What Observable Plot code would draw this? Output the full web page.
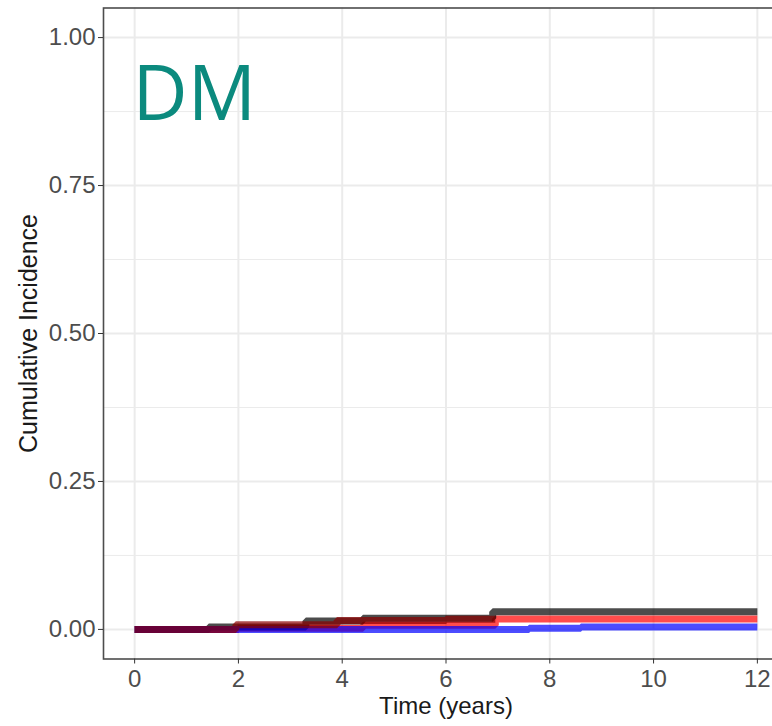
<!DOCTYPE html>
<html>
<head>
<meta charset="utf-8">
<script src="https://cdn.jsdelivr.net/npm/d3@7"></script>
<script src="https://cdn.jsdelivr.net/npm/@observablehq/plot@0.6"></script>
<style>
  html, body { margin: 0; padding: 0; background: #fff; overflow: hidden; }
  #chart svg { max-width: none !important; display: block; }
</style>
</head>
<body>
<div id="chart"></div>
<script>
// Tick values
const xTicks = [0, 2, 4, 6, 8, 10, 12];
const yTicks = [0, 0.25, 0.5, 0.75, 1.0];
const yMinor = [0.125, 0.375, 0.625, 0.875];

// Series (cumulative incidence step functions), listed in drawing order
const groupNames = ["g3", "g1", "g4", "g2"];
const groupColors = ["#ff0000", "#000000", "#0000ff", "#8b0000"];

const timeG1 = [0, 1.43, 3.3, 4.4, 6.9, 12];
const ciG1   = [0, 0.004, 0.014, 0.019, 0.030, 0.030];
const timeG2 = [0, 1.95, 3.9, 6.0, 6.95];
const ciG2   = [0, 0.008, 0.015, 0.017, 0.017];
const timeG3 = [0, 2.0, 4.4, 6.95, 12];
const ciG3   = [0, 0.002, 0.007, 0.0175, 0.0175];
const timeG4 = [0, 7.6, 8.6, 12];
const ciG4   = [0, 0.002, 0.004, 0.004];

const panelLabel = "DM";
const xLabel = "Time (years)";
const yLabel = "Cumulative Incidence";

const series = [[timeG3, ciG3], [timeG1, ciG1], [timeG4, ciG4], [timeG2, ciG2]];
const data = series.flatMap(([t, c], i) => t.map((tt, j) => ({group: groupNames[i], time: tt, ci: c[j]})));

const font = "'Liberation Sans', Arial, sans-serif";

const chart = Plot.plot({
  width: 800,
  height: 726,
  marginLeft: 103,
  marginRight: 12,
  marginTop: 7.5,
  marginBottom: 67.5,
  style: {fontFamily: font, fontSize: "24px", color: "#4d4d4d", background: "#fff", maxWidth: "none"},
  x: {domain: [-0.6, 12.6]},
  y: {domain: [-0.05, 1.05]},
  color: {domain: groupNames, range: groupColors},
  marks: [
    Plot.gridY(yMinor, {stroke: "#ebebeb", strokeOpacity: 1, strokeWidth: 1}),
    Plot.gridY(yTicks, {stroke: "#ebebeb", strokeOpacity: 1, strokeWidth: 2}),
    Plot.gridX(xTicks, {stroke: "#ebebeb", strokeOpacity: 1, strokeWidth: 2}),
    Plot.line(data, {x: "time", y: "ci", z: "group", stroke: "group", curve: "step-after",
      strokeWidth: 7, strokeOpacity: 0.7, strokeLinecap: "butt", strokeLinejoin: "miter"}),
    Plot.frame({stroke: "#4d4d4d", strokeWidth: 1.6}),
    Plot.axisX(xTicks, {tickSize: 5, tickPadding: 6, tickFormat: d => String(d), label: null,
      stroke: "#333", fill: "#4d4d4d", fontSize: 24}),
    Plot.axisY(yTicks, {tickSize: 5, tickPadding: 3, tickFormat: d => d.toFixed(2), label: null,
      stroke: "#333", fill: "#4d4d4d", fontSize: 24}),
    Plot.text([xLabel], {frameAnchor: "bottom", dy: 55, fill: "#1a1a1a", fontSize: 24, fontFamily: font}),
    Plot.text([yLabel], {frameAnchor: "left", textAnchor: "middle", rotate: -90, dx: -75, fill: "#1a1a1a", fontSize: 25, fontFamily: font}),
    Plot.text([panelLabel], {frameAnchor: "top-left", textAnchor: "start", lineAnchor: "top",
      dx: 29, dy: 58, fill: "#0b8a7e", fontSize: 76, fontFamily: "'Open Sans', 'Noto Sans', sans-serif"})
  ]
});
document.getElementById("chart").appendChild(chart);
</script>
</body>
</html>
